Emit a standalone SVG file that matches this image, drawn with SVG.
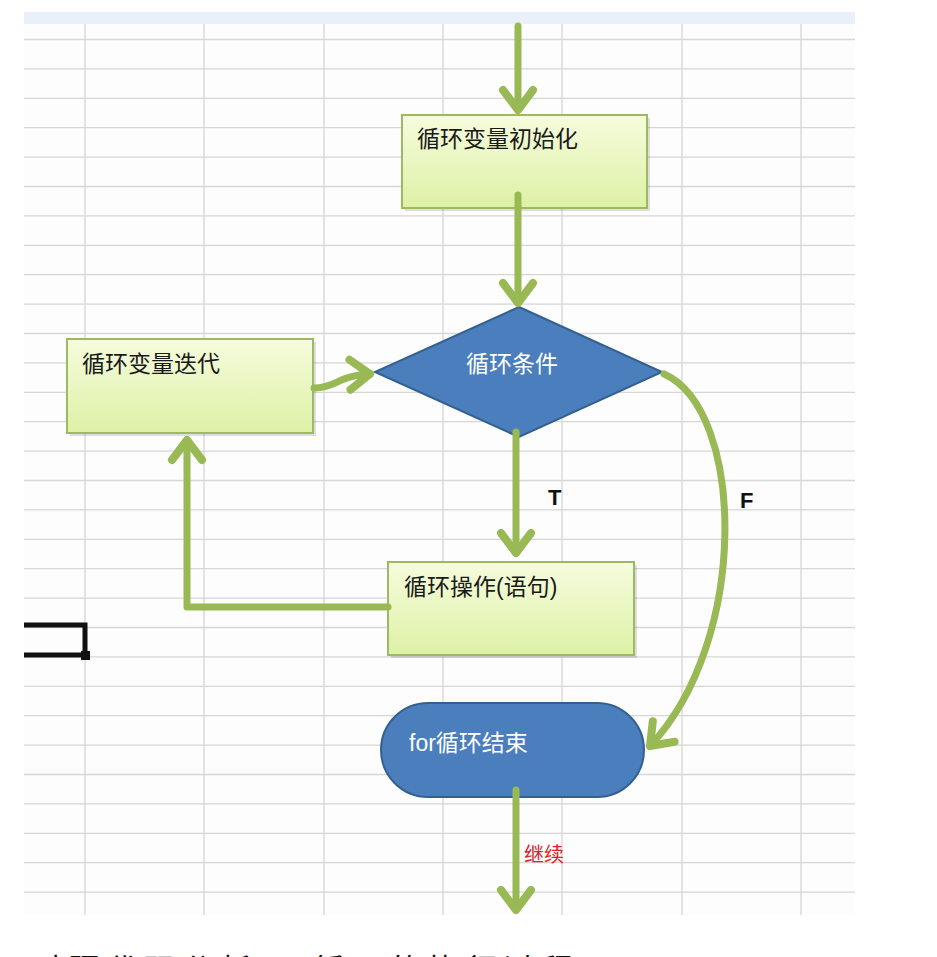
<svg xmlns="http://www.w3.org/2000/svg" width="937" height="957" viewBox="0 0 937 957">
<style>
.grid line{stroke:#d6d6d6;stroke-width:1.3}
.box{fill:url(#boxg);stroke:#9dba62;stroke-width:2}
.blue{fill:#4a7ebd;stroke:#34608f;stroke-width:2}
.lbl{font-family:"Liberation Sans","Noto Sans CJK SC",sans-serif;font-size:23px;fill:#1a1a1a}
.wl{font-family:"Liberation Sans","Noto Sans CJK SC",sans-serif;font-size:23px;fill:#ffffff}
.conn path{fill:none;stroke:#98b954;stroke-width:7;stroke-linecap:round;stroke-linejoin:round}
.tf{font-family:"Liberation Sans",sans-serif;font-size:22px;font-weight:bold;fill:#111}
</style>
<defs>
<linearGradient id="boxg" x1="0" y1="0" x2="0" y2="1">
<stop offset="0" stop-color="#f6fcdd"/>
<stop offset="1" stop-color="#ddf1a6"/>
</linearGradient>
<marker id="ah" markerUnits="userSpaceOnUse" markerWidth="50" markerHeight="50" refX="0" refY="0" orient="auto" overflow="visible" viewBox="-35 -25 50 50">
<path d="M-20,-15 L0,0 L-20,15" fill="none" stroke="#98b954" stroke-width="8" stroke-linecap="round" stroke-linejoin="round"/>
</marker>
</defs>
<rect width="937" height="957" fill="#ffffff"/>
<g id="sheet">
<rect x="24" y="12" width="831" height="903" fill="#fdfdfe"/>
<rect x="24" y="12" width="831" height="12" fill="#eaf0fa"/>
<g class="grid">
<line x1="24" y1="39.5" x2="855" y2="39.5"/><line x1="24" y1="68.9" x2="855" y2="68.9"/><line x1="24" y1="98.3" x2="855" y2="98.3"/><line x1="24" y1="127.7" x2="855" y2="127.7"/><line x1="24" y1="157.1" x2="855" y2="157.1"/><line x1="24" y1="186.5" x2="855" y2="186.5"/><line x1="24" y1="215.9" x2="855" y2="215.9"/><line x1="24" y1="245.3" x2="855" y2="245.3"/><line x1="24" y1="274.7" x2="855" y2="274.7"/><line x1="24" y1="304.1" x2="855" y2="304.1"/><line x1="24" y1="333.5" x2="855" y2="333.5"/><line x1="24" y1="362.9" x2="855" y2="362.9"/><line x1="24" y1="392.3" x2="855" y2="392.3"/><line x1="24" y1="421.7" x2="855" y2="421.7"/><line x1="24" y1="451.1" x2="855" y2="451.1"/><line x1="24" y1="480.5" x2="855" y2="480.5"/><line x1="24" y1="509.9" x2="855" y2="509.9"/><line x1="24" y1="539.3" x2="855" y2="539.3"/><line x1="24" y1="568.7" x2="855" y2="568.7"/><line x1="24" y1="598.1" x2="855" y2="598.1"/><line x1="24" y1="627.5" x2="855" y2="627.5"/><line x1="24" y1="656.9" x2="855" y2="656.9"/><line x1="24" y1="686.3" x2="855" y2="686.3"/><line x1="24" y1="715.7" x2="855" y2="715.7"/><line x1="24" y1="745.1" x2="855" y2="745.1"/><line x1="24" y1="774.5" x2="855" y2="774.5"/><line x1="24" y1="803.9" x2="855" y2="803.9"/><line x1="24" y1="833.3" x2="855" y2="833.3"/><line x1="24" y1="862.7" x2="855" y2="862.7"/><line x1="24" y1="892.1" x2="855" y2="892.1"/>
<line x1="85" y1="24" x2="85" y2="915"/><line x1="204" y1="24" x2="204" y2="915"/><line x1="324" y1="24" x2="324" y2="915"/><line x1="443" y1="24" x2="443" y2="915"/><line x1="562" y1="24" x2="562" y2="915"/><line x1="682" y1="24" x2="682" y2="915"/><line x1="801" y1="24" x2="801" y2="915"/>
</g>
<path d="M24,625 L85,625 L85,655 L24,655" fill="none" stroke="#111" stroke-width="5"/>
<rect x="81" y="651" width="9" height="9" fill="#111"/>
</g>
<g id="init">
<rect x="405" y="118" width="245" height="93" fill="#000" opacity="0.12"/>
<rect class="box" x="402" y="115" width="245" height="93"/>
<text class="lbl" x="417" y="147">循环变量初始化</text>
</g>
<g id="iter">
<rect x="70" y="342" width="246" height="94" fill="#000" opacity="0.12"/>
<rect class="box" x="67" y="339" width="246" height="94"/>
<text class="lbl" x="82" y="372">循环变量迭代</text>
</g>
<g id="cond">
<polygon class="blue" points="519,307 662,372 519,437 375,372"/>
<text class="wl" x="512" y="372" text-anchor="middle">循环条件</text>
</g>
<g id="body">
<rect x="391" y="565" width="246" height="93" fill="#000" opacity="0.12"/>
<rect class="box" x="388" y="562" width="246" height="93"/>
<text class="lbl" x="404" y="595">循环操作(语句)</text>
</g>
<g id="end">
<rect class="blue" x="381" y="703" width="263" height="94" rx="47" ry="47"/>
<text class="wl" x="409" y="751">for循环结束</text>
</g>
<g class="conn" id="connectors">
<path d="M518,26 L518,110" marker-end="url(#ah)"/>
<path d="M518,195 L518,303" marker-end="url(#ah)"/>
<path d="M516,432 L516,553" marker-end="url(#ah)"/>
<path d="M388,607 L187,607 L187,440" marker-end="url(#ah)"/>
<path d="M314,388 C335,388 340,375 370,374" marker-end="url(#ah)"/>
<path d="M664,374 C745,410 750,640 650,746" marker-end="url(#ah)"/>
<path d="M516,790 L516,910" marker-end="url(#ah)"/>
</g>
<g id="labels">
<text class="tf" x="548" y="505">T</text>
<text class="tf" x="740" y="508">F</text>
<text x="524" y="862" font-family="Liberation Sans,'Noto Sans CJK SC',sans-serif" font-size="20" fill="#e02020">继续</text>
</g>
<text x="30" y="982" font-family="Liberation Sans,'Noto Sans CJK SC',sans-serif" font-size="32" letter-spacing="6" fill="#111">对照代码分析for循环的执行过程</text>
</svg>
